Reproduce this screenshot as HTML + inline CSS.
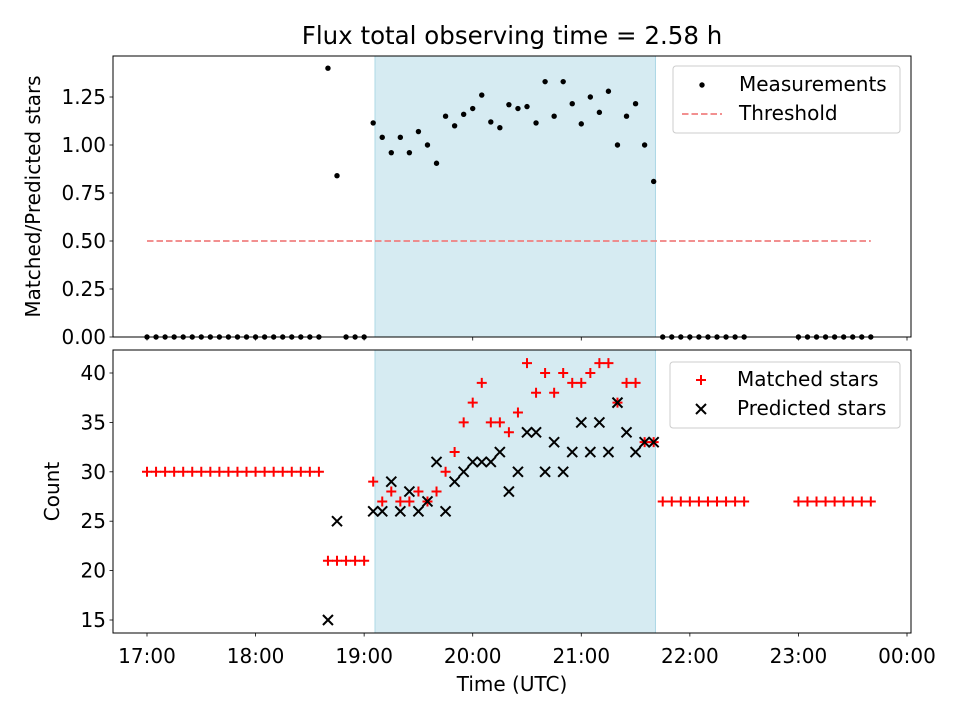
<!DOCTYPE html>
<html><head><meta charset="utf-8"><style>
body{margin:0;background:#fff}
svg{display:block;font-family:"DejaVu Sans","Liberation Sans",sans-serif}
</style></head><body>
<svg id="chart" width="960" height="720" viewBox="0 0 960 720">
<rect width="960" height="720" fill="#fff"/>
<text x="512" y="44" font-size="24.5" text-anchor="middle">Flux total observing time = 2.58 h</text>
<g id="topPanel"></g><g id="botPanel"></g>
</svg>
<script>
// minutes since 17:00
const times = [0,5,10,15,20,25,30,35,40,45,50,55,60,65,70,75,80,85,90,95,
 100,105,110,115,120,
 125,130,135,140,145,150,155,160,165,170,175,180,185,190,195,200,205,210,215,220,225,230,235,240,245,250,255,260,265,270,275,280,
 285,290,295,300,305,310,315,320,325,330,
 360,365,370,375,380,385,390,395,400];
const ratio = [0,0,0,0,0,0,0,0,0,0,0,0,0,0,0,0,0,0,0,0,
 1.40,0.84,0,0,0,
 1.115,1.04,0.96,1.04,0.96,1.07,1.0,0.905,1.15,1.10,1.16,1.19,1.26,1.12,1.09,1.21,1.19,1.20,1.115,1.33,1.15,1.33,1.215,1.11,1.25,1.17,1.28,1.0,1.15,1.215,1.0,0.81,
 0,0,0,0,0,0,0,0,0,0,
 0,0,0,0,0,0,0,0,0];
const matched = [30,30,30,30,30,30,30,30,30,30,30,30,30,30,30,30,30,30,30,30,
 21,21,21,21,21,
 29,27,28,27,27,28,27,28,30,32,35,37,39,35,35,34,36,41,38,40,38,40,39,39,40,41,41,37,39,39,33,33,
 27,27,27,27,27,27,27,27,27,27,
 27,27,27,27,27,27,27,27,27];
const predicted = [null,null,null,null,null,null,null,null,null,null,null,null,null,null,null,null,null,null,null,null,
 15,25,null,null,null,
 26,26,29,26,28,26,27,31,26,29,30,31,31,31,32,28,30,34,34,30,33,30,32,35,32,35,32,37,34,32,33,33,
 null,null,null,null,null,null,null,null,null,null,
 null,null,null,null,null,null,null,null,null];
const threshold = 0.5;
const xTickLabels = ["17:00","18:00","19:00","20:00","21:00","22:00","23:00","00:00"];
const topTicks = [0,0.25,0.5,0.75,1.0,1.25];
const botTicks = [15,20,25,30,35,40];
const shadeStart = 126, shadeEnd = 281;

const FS=20;
const NS="http://www.w3.org/2000/svg";
function el(tag,attrs,parent){const e=document.createElementNS(NS,tag);for(const k in attrs)e.setAttribute(k,attrs[k]);parent.appendChild(e);return e;}
const L=113,R=911;
const xs=m=>147+m*(760/420);
const T={top:56,bot:337,lo:0,hi:(337-56)/192};
const B={top:350,bot:633,lo:15-(633-620)/9.88,hi:15+(620-350)/9.88};
const yT=v=>T.bot-(v-T.lo)/(T.hi-T.lo)*(T.bot-T.top);
const yB=v=>B.bot-(v-B.lo)/(B.hi-B.lo)*(B.bot-B.top);
const gTop=document.getElementById('topPanel'), gBot=document.getElementById('botPanel');

function panel(g,P,yf,ticks,fmt,ylabel,showX,ylx){
  const s=el('rect',{x:xs(shadeStart),y:P.top,width:xs(shadeEnd)-xs(shadeStart),height:P.bot-P.top,fill:'#add8e6','fill-opacity':0.5,stroke:'#add8e6','stroke-width':1},g);
  
  
  ticks.forEach(v=>{const y=yf(v);
    el('line',{x1:L-3.5,x2:L,y1:y,y2:y,stroke:'#000','stroke-width':0.8},g);
    const t=el('text',{x:L-7,y:y+7,'font-size':FS,'text-anchor':'end'},g);t.textContent=fmt(v);
    
    
  });
  xTickLabels.forEach((lab,i)=>{const x=xs(i*60);
    el('line',{x1:x,x2:x,y1:P.bot,y2:P.bot+3.5,stroke:'#000','stroke-width':0.8},g);
    if(showX){const t=el('text',{x:x,y:P.bot+30,'font-size':FS,'text-anchor':'middle'},g);t.textContent=lab;
      
      }
  });
  const yl=el('text',{x:0,y:0,'font-size':FS,'text-anchor':'middle',transform:`translate(${ylx},${(P.top+P.bot)/2}) rotate(-90)`},g);
  yl.textContent=ylabel;
  
  
}
panel(gTop,T,yT,topTicks,v=>v.toFixed(2),'Matched/Predicted stars',false,40);
panel(gBot,B,yB,botTicks,v=>String(v),'Count',true,59);

const th=el('line',{x1:xs(times[0]),x2:xs(times[times.length-1]),y1:yT(threshold),y2:yT(threshold),stroke:'#f08080','stroke-width':1.7,'stroke-dasharray':'6.5,3'},gTop);


times.forEach((m,i)=>{
  const c=el('circle',{cx:xs(m),cy:yT(ratio[i]),r:2.7,fill:'#000'},gTop);
  
  
});
function plus(x,y,g){return el('path',{d:`M${x-5},${y}H${x+5}M${x},${y-5}V${y+5}`,stroke:'#ff0000','stroke-width':2,fill:'none'},g);}
function cross(x,y,g){return el('path',{d:`M${x-5},${y-5}L${x+5},${y+5}M${x-5},${y+5}L${x+5},${y-5}`,stroke:'#000','stroke-width':2,fill:'none'},g);}
times.forEach((m,i)=>{
  const p=plus(xs(m),yB(matched[i]),gBot);
  
  
});
times.forEach((m,i)=>{ if(predicted[i]===null)return;
  const p=cross(xs(m),yB(predicted[i]),gBot);
  
  
});
[T,B].forEach((P,i)=>{const f=el('rect',{x:L,y:P.top,width:R-L,height:P.bot-P.top,fill:'none',stroke:'#000','stroke-width':1},i?gBot:gTop);
  
  });
const xl=el('text',{x:512,y:691,'font-size':FS,'text-anchor':'middle'},gBot);xl.textContent='Time (UTC)';



const lg1=el('g',{},gTop);


el('rect',{x:673,y:66,width:227,height:67,rx:3,fill:'#fff','fill-opacity':0.8,stroke:'#ccc'},lg1);
el('circle',{cx:702,cy:85,r:2.7,fill:'#000'},lg1);
let t=el('text',{x:739,y:91,'font-size':FS},lg1);t.textContent='Measurements';
el('line',{x1:682,x2:722,y1:114,y2:114,stroke:'#f08080','stroke-width':1.7,'stroke-dasharray':'6.5,3'},lg1);
t=el('text',{x:739,y:120,'font-size':FS},lg1);t.textContent='Threshold';
const lg2=el('g',{},gBot);


el('rect',{x:670,y:362,width:230,height:66,rx:3,fill:'#fff','fill-opacity':0.8,stroke:'#ccc'},lg2);
plus(701,380,lg2);
t=el('text',{x:737,y:386,'font-size':FS},lg2);t.textContent='Matched stars';
cross(701,409,lg2);
t=el('text',{x:737,y:415,'font-size':FS},lg2);t.textContent='Predicted stars';
</script>
</body></html>
